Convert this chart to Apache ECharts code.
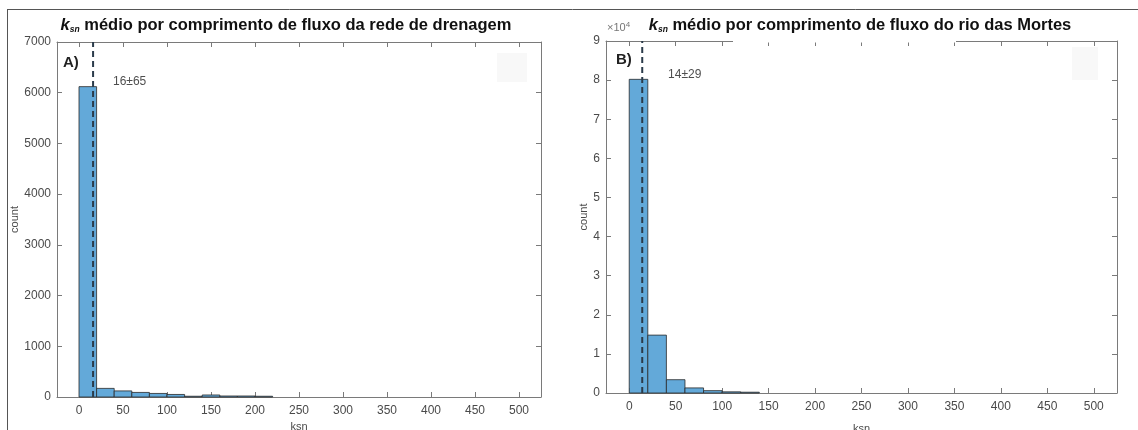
<!DOCTYPE html>
<html><head><meta charset="utf-8">
<script src="https://cdn.jsdelivr.net/npm/echarts@6/dist/echarts.min.js"></script>
<style>html,body{margin:0;padding:0;background:#fff}#c{width:1138px;height:430px}</style>
</head><body><div id="c"></div>
<script>
// ---- data ----
const binWidth = 20;
const binStartsA = [0, 20, 40, 60, 80, 100, 120, 140, 160, 180, 200];
const countsA = [6120, 170, 120, 90, 70, 50, 15, 40, 20, 20, 15];
const binStartsB = [0, 20, 40, 60, 80, 100, 120];
const countsB = [80200, 14800, 3400, 1300, 600, 300, 200];
const meanA = 16, meanB = 14;
const labelA = '16±65', labelB = '14±29';
const xTicks = [0, 50, 100, 150, 200, 250, 300, 350, 400, 450, 500];
const titleA = ' médio por comprimento de fluxo da rede de drenagem';
const titleB = ' médio por comprimento de fluxo do rio das Mortes';

const AX = '#7a7a7a', LBL = '#4a4a4a', FONT = 'Liberation Sans, Arial, sans-serif';
const barFill = '#63a9d9', barEdge = '#2a2a2a';

function renderBin(params, api) {
  const x0 = api.value(0), x1 = api.value(1), y = api.value(2);
  const p0 = api.coord([x0, y]);
  const p1 = api.coord([x1, 0]);
  return {
    type: 'rect',
    shape: { x: p0[0], y: p0[1], width: p1[0] - p0[0], height: p1[1] - p0[1] },
    style: { fill: barFill, stroke: barEdge, lineWidth: 0.8 }
  };
}

function xAxes(gi, nameGap) {
  return [
    { gridIndex: gi, type: 'value', min: -25, max: 525, position: 'bottom',
      name: 'ksn', nameLocation: 'middle', nameGap: nameGap,
      nameTextStyle: { color: LBL, fontSize: 11, fontFamily: FONT },
      axisLine: { show: true, onZero: false, lineStyle: { color: AX, width: 1 } },
      axisTick: { show: true, inside: true, length: 5, customValues: xTicks, lineStyle: { color: AX } },
      axisLabel: { show: true, customValues: xTicks, color: LBL, fontSize: 12, fontFamily: FONT, margin: 8 },
      splitLine: { show: false } },
    { gridIndex: gi, type: 'value', min: -25, max: 525, position: 'top',
      axisLine: { show: true, onZero: false, lineStyle: { color: AX, width: 1 } },
      axisTick: { show: true, inside: true, length: 5, customValues: xTicks, lineStyle: { color: AX } },
      axisLabel: { show: false }, splitLine: { show: false } }
  ];
}
function yAxes(gi, max, interval, fmt, nameGap) {
  return [
    { gridIndex: gi, type: 'value', min: 0, max: max, interval: interval, position: 'left',
      name: 'count', nameLocation: 'middle', nameGap: nameGap, nameRotate: 90,
      nameTextStyle: { color: LBL, fontSize: 11, fontFamily: FONT },
      axisLine: { show: true, onZero: false, lineStyle: { color: AX, width: 1 } },
      axisTick: { show: true, inside: true, length: 5, lineStyle: { color: AX } },
      axisLabel: { color: LBL, fontSize: 12, fontFamily: FONT, margin: 6, formatter: fmt },
      splitLine: { show: false } },
    { gridIndex: gi, type: 'value', min: 0, max: max, interval: interval, position: 'right',
      axisLine: { show: true, onZero: false, lineStyle: { color: AX, width: 1 } },
      axisTick: { show: true, inside: true, length: 5, lineStyle: { color: AX } },
      axisLabel: { show: false }, splitLine: { show: false } }
  ];
}

const titleRich = {
  k: { fontStyle: 'italic', fontWeight: 'bold', fontSize: 16.5, color: '#111', fontFamily: FONT },
  s: { fontStyle: 'italic', fontWeight: 'bold', fontSize: 8.5, color: '#111', fontFamily: FONT, padding: [8, 0, 0, 0] },
  t: { fontWeight: 'bold', fontSize: 16.5, color: '#111', fontFamily: FONT }
};

const chart = echarts.init(document.getElementById('c'), null, { renderer: 'canvas' });
chart.setOption({
  backgroundColor: '#fff',
  animation: false,
  title: [
    { text: '{k|k}{s|sn}{t|' + titleA + '}', left: 286, top: 17, textAlign: 'center', padding: 0,
      textStyle: { rich: titleRich } },
    { text: '{k|k}{s|sn}{t|' + titleB + '}', left: 860, top: 17, textAlign: 'center', padding: 0,
      textStyle: { rich: titleRich } }
  ],
  grid: [
    { left: 57, right: 597, top: 42, bottom: 33, outerBoundsMode: 'none', containLabel: false },
    { left: 606, right: 21, top: 41, bottom: 37, outerBoundsMode: 'none', containLabel: false }
  ],
  xAxis: [...xAxes(0, 18), ...xAxes(1, 30)],
  yAxis: [...yAxes(0, 7000, 1000, v => String(v), 37),
          ...yAxes(1, 90000, 10000, v => String(v / 10000), 15)],
  series: [
    { type: 'custom', xAxisIndex: 0, yAxisIndex: 0, renderItem: renderBin,
      encode: { x: [0, 1], y: 2 },
      data: binStartsA.map((s, i) => [s, s + binWidth, countsA[i]]) },
    { type: 'custom', xAxisIndex: 2, yAxisIndex: 2, renderItem: renderBin,
      encode: { x: [0, 1], y: 2 },
      data: binStartsB.map((s, i) => [s, s + binWidth, countsB[i]]) },
    { type: 'line', xAxisIndex: 0, yAxisIndex: 0, symbol: 'none', z: 5,
      lineStyle: { color: '#2b3b4a', width: 2, type: [6, 4] },
      data: [[meanA, 0], [meanA, 7000]] },
    { type: 'line', xAxisIndex: 2, yAxisIndex: 2, symbol: 'none', z: 5,
      lineStyle: { color: '#2b3b4a', width: 2, type: [6, 4] },
      data: [[meanB, 0], [meanB, 90000]] },
    { type: 'scatter', xAxisIndex: 0, yAxisIndex: 0, symbolSize: 0, silent: true,
      label: { show: true, formatter: labelA, position: 'right', distance: 0, color: '#222', fontSize: 12, fontFamily: FONT },
      data: [[38.6, 6210]] },
    { type: 'scatter', xAxisIndex: 2, yAxisIndex: 2, symbolSize: 0, silent: true,
      label: { show: true, formatter: labelB, position: 'right', distance: 0, color: '#222', fontSize: 12, fontFamily: FONT },
      data: [[41.8, 81300]] }
  ],
  graphic: [
    { type: 'line', shape: { x1: 7.5, y1: 9, x2: 7.5, y2: 430 }, style: { stroke: '#555', lineWidth: 1 } },
    { type: 'line', shape: { x1: 7, y1: 9.5, x2: 1138, y2: 9.5 }, style: { stroke: '#555', lineWidth: 1 } },
    { type: 'rect', z: 100, shape: { x: 733, y: 34, width: 223, height: 8.5 }, style: { fill: '#fff' } },
    { type: 'rect', shape: { x: 497, y: 53, width: 30, height: 29 }, style: { fill: '#f8f8f8' } },
    { type: 'rect', shape: { x: 1072, y: 47, width: 26, height: 33 }, style: { fill: '#f8f8f8' } },
    { type: 'text', x: 63, y: 63, style: { text: 'A)', fontSize: 15, fontWeight: 'bold', fill: '#222', fontFamily: FONT, textVerticalAlign: 'middle' } },
    { type: 'text', x: 616, y: 60, style: { text: 'B)', fontSize: 15, fontWeight: 'bold', fill: '#222', fontFamily: FONT, textVerticalAlign: 'middle' } },
    { type: 'text', x: 607, y: 28, style: { text: '×10{p|4}', fontSize: 11, fill: '#777', fontFamily: FONT,
        textVerticalAlign: 'middle', rich: { p: { fontSize: 8, fill: '#777', verticalAlign: 'top', padding: [0, 0, 6, 0] } } } }
  ]
});
</script></body></html>
